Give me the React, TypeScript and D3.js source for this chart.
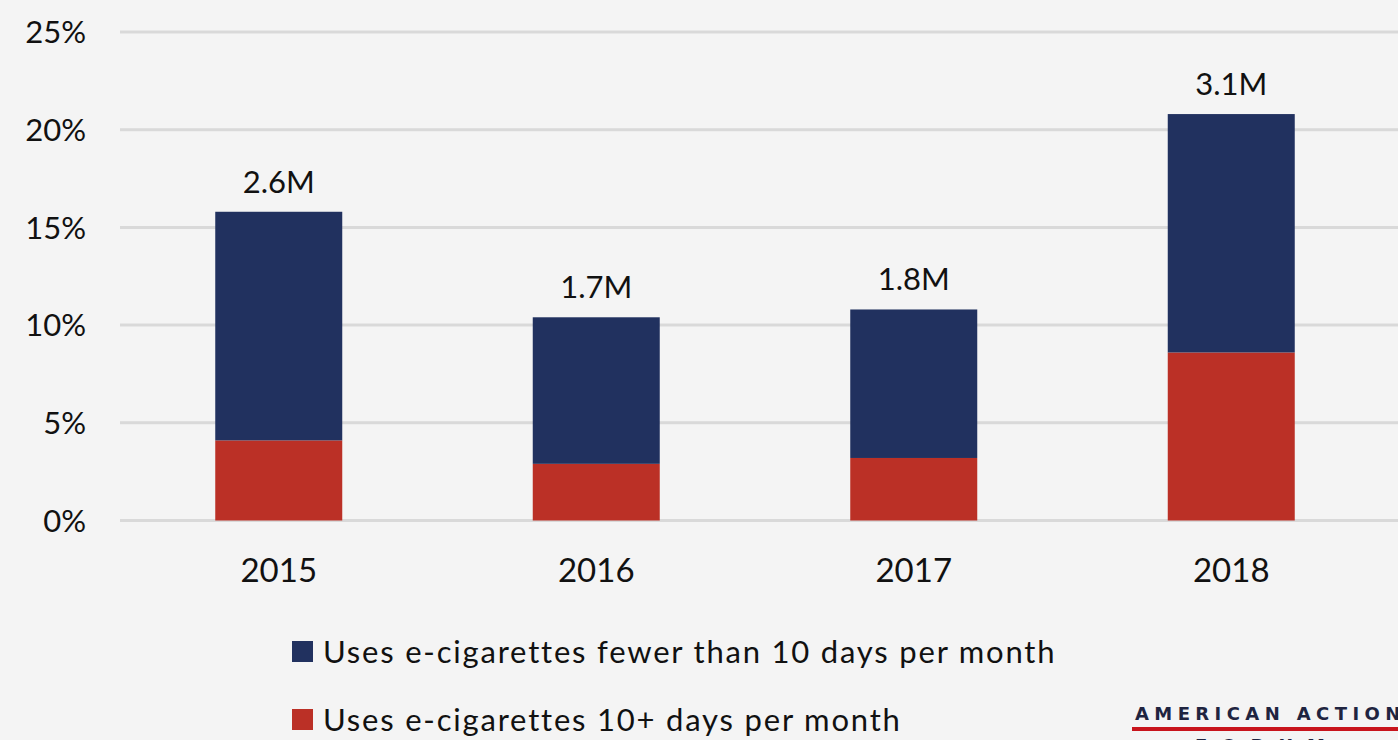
import React from "react";
import * as d3 from "d3";

const years = ["2015", "2016", "2017", "2018"];
const lightUse = [11.7, 7.5, 7.6, 12.2];
const heavyUse = [4.1, 2.9, 3.2, 8.6];
const totalLabels = ["2.6M", "1.7M", "1.8M", "3.1M"];
const yTicks = [0, 5, 10, 15, 20, 25];
const seriesNames = [
  "Uses e-cigarettes fewer than 10 days per month",
  "Uses e-cigarettes 10+ days per month",
];

const W = 1398;
const H = 740;
const NAVY = "#21315f";
const RED = "#bb3026";
const FONT = "Lato, 'Open Sans', sans-serif";

export default function App() {
  const x = d3.scaleBand<string>().domain(years).range([120, 1390]).paddingInner(0.6).paddingOuter(0.3);
  const y = d3.scaleLinear().domain([0, 25]).range([520.5, 32]);

  const rows = years.map((yr, i) => ({ year: yr, heavy: heavyUse[i], light: lightUse[i] }));
  const stack = d3.stack<any>().keys(["heavy", "light"])(rows);
  const colors: Record<string, string> = { heavy: RED, light: NAVY };

  return (
    <svg width={W} height={H} style={{ position: "absolute", left: 0, top: 0, display: "block" }} fontFamily={FONT}>
      <rect x={0} y={0} width={W} height={H} fill="#f4f4f4" />
      {yTicks.map((t) => (
        <g key={t}>
          <line x1={120} x2={W} y1={y(t)} y2={y(t)} stroke="#d9d9d9" strokeWidth={3} />
          <text x={86} y={y(t)} dy="0.36em" textAnchor="end" fontSize={31} fill="#111">
            {t}%
          </text>
        </g>
      ))}
      {stack.map((layer) => (
        <g key={layer.key} fill={colors[layer.key]}>
          {layer.map((d, i) => (
            <rect
              key={i}
              x={x(years[i])}
              width={x.bandwidth()}
              y={y(d[1])}
              height={y(d[0]) - y(d[1])}
            />
          ))}
        </g>
      ))}
      {years.map((yr, i) => (
        <g key={yr}>
          <text
            x={(x(yr) as number) + x.bandwidth() / 2}
            y={y(heavyUse[i] + lightUse[i]) - 19}
            textAnchor="middle"
            fontSize={31}
            fill="#111"
          >
            {totalLabels[i]}
          </text>
          <text x={(x(yr) as number) + x.bandwidth() / 2} y={582} textAnchor="middle" fontSize={33} fill="#111">
            {yr}
          </text>
        </g>
      ))}
      {seriesNames.map((name, i) => (
        <g key={name} transform={`translate(292, ${641 + i * 68})`}>
          <rect x={0} y={0} width={21} height={21} fill={i === 0 ? NAVY : RED} />
          <text x={31} y={22} fontSize={31} letterSpacing={1.8} fill="#111">
            {name}
          </text>
        </g>
      ))}
      <g>
        <text x={1135} y={720} fontSize={18} fontWeight={700} letterSpacing={5.4} fill="#1f2440" fontFamily="'DejaVu Sans', sans-serif">
          AMERICAN ACTION FORUM
        </text>
        <rect x={1132} y={727} width={W - 1132} height={4} fill="#c8141c" />
        <text x={1195} y={752} fontSize={18} fontWeight={700} letterSpacing={14} fill="#1f2440" fontFamily="'DejaVu Sans', sans-serif">
          FORUM
        </text>
      </g>
    </svg>
  );
}
